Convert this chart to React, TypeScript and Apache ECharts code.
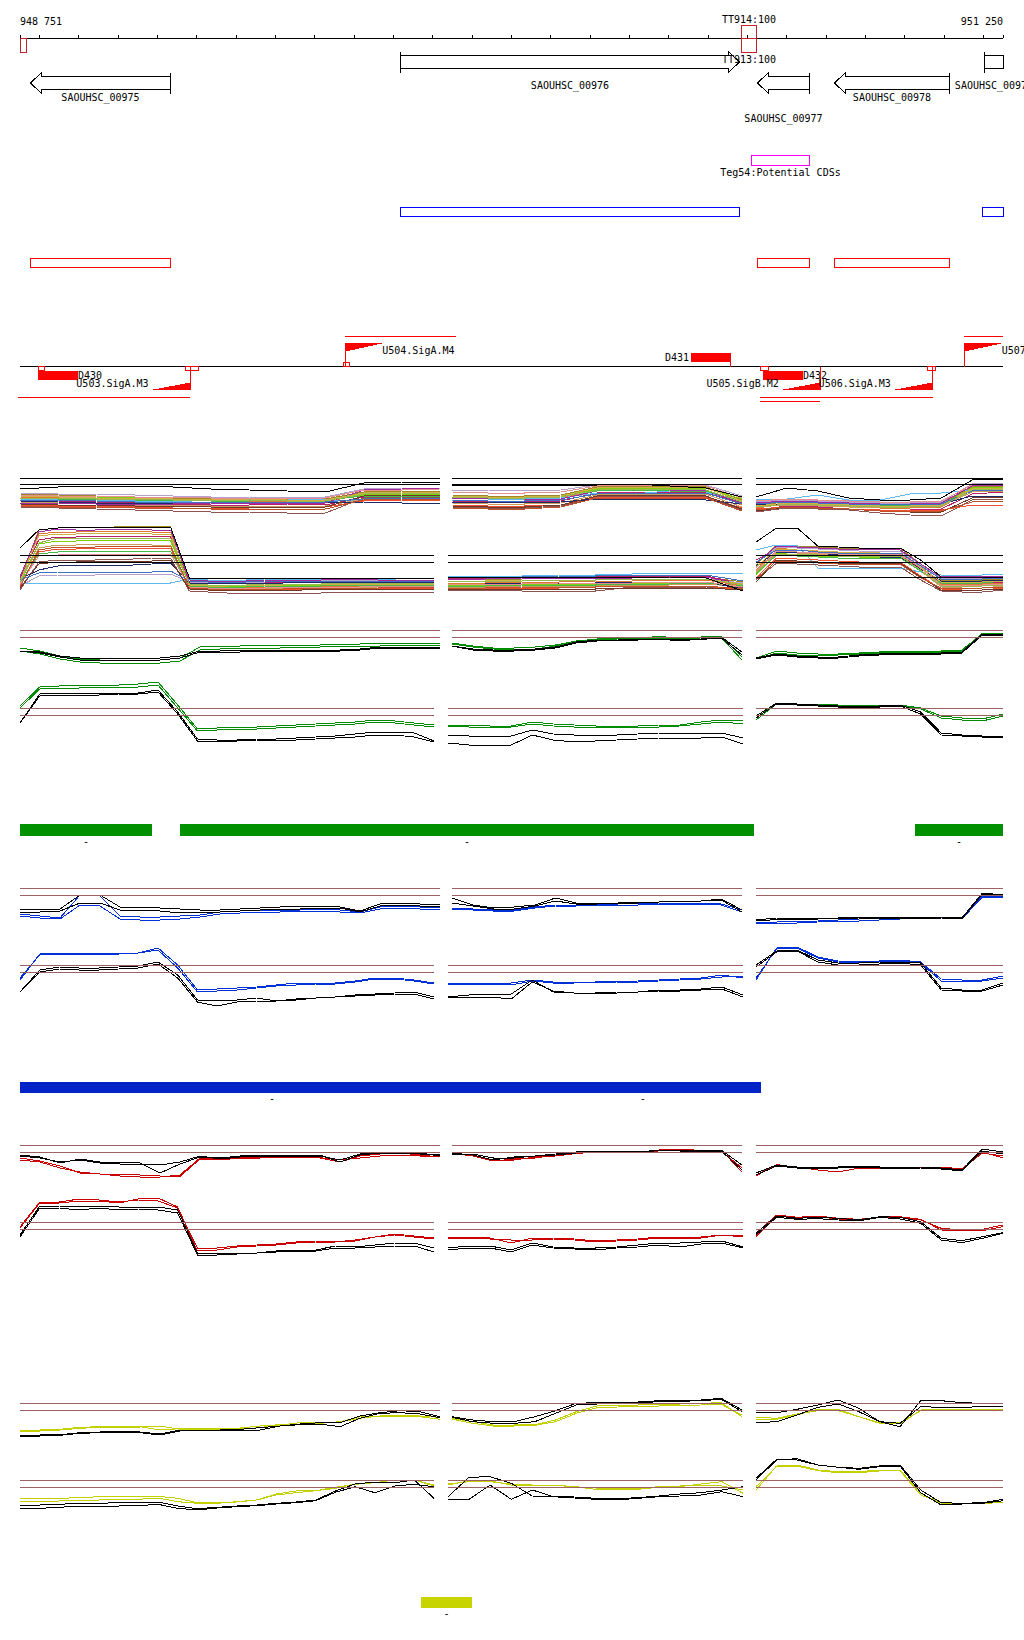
import React, { useEffect, useRef } from 'react';
import * as echarts from 'echarts';

// ---------------- genome region ----------------
const REGION_START = 948751;
const REGION_END = 951250;
const RULER_TICKS = [948751, 948800, 948900, 949000, 949100, 949200, 949300, 949400, 949500, 949600, 949700, 949800, 949900, 950000, 950100, 950200, 950300, 950400, 950500, 950600, 950700, 950800, 950900, 951000, 951100, 951200, 951250];
const RULER_LABELS = [948751, 951250];

// terminators
const TERM_NAME = ['', 'TT914:100', 'TT913:100'];
const TERM_START = [948751, 950584, 950584];
const TERM_END = [948766, 950623, 950623];
const TERM_STRAND = ['-', '+', '-'];

// genes
const GENE_NAME = ['SAOUHSC_00975', 'SAOUHSC_00976', 'SAOUHSC_00977', 'SAOUHSC_00978', 'SAOUHSC_00979'];
const GENE_START = [948776, 949717, 950625, 950820, 951201];
const GENE_END = [949132, 950579, 950757, 951112, 951460];
const GENE_STRAND = ['-', '+', '-', '-', '+'];
const GENE_LABEL_LOW = [false, false, true, false, false];

// potential CDS / boxes
const TEG_NAME = ['Teg54:Potential CDSs'];
const TEG_START = [950609];
const TEG_END = [950757];
const BLUE_BOX_START = [949717, 951197];
const BLUE_BOX_END = [950579, 951250];
const RED_BOX_START = [948776, 950625, 950820];
const RED_BOX_END = [949132, 950757, 951112];

// promoter track
const D_NAME = ['D430', 'D431', 'D432'];
const D_START = [948797, 950457, 950640];
const D_END = [948898, 950559, 950742];
const D_STRAND = ['-', '+', '-'];
const SITE_START = [948797, 949170, 949572, 950632, 951057];
const SITE_END = [948812, 949203, 949587, 950653, 951077];
const SITE_STRAND = ['-', '-', '+', '-', '-'];
const PROM_NAME = ['U503.SigA.M3', 'U504.SigA.M4', 'U505.SigB.M2', 'U506.SigA.M3', 'U507'];
const PROM_TSS = [949183, 949577, 950785, 951070, 951152];
const PROM_STRAND = ['-', '+', '-', '-', '+'];
const FLAG_BP = 100;
const UTR_START = [948746, 949577, 950632, 950632, 951152];
const UTR_END = [949183, 949859, 951072, 950785, 951250];
const UTR_STRAND = ['-', '+', '-', '-', '+'];
const UTR_ROW = [0, 0, 0, 1, 0];

// segment bars
const GREEN_BAR_START = [948751, 949158, 951026];
const GREEN_BAR_END = [949087, 950617, 951250];
const BLUE_BAR_START = [948751, 950032];
const BLUE_BAR_END = [950032, 950636];
const YELLOW_BAR_START = [949770];
const YELLOW_BAR_END = [949900];

// ---------------- expression profiles ----------------
const multi_top_1 = [
  [26, 25, 24, 23, 22, 22, 22, 21, 21, 28, 29, 29],
  [23, 22, 20, 19, 18, 18, 19, 19, 18, 26, 27, 27],
  [20, 19, 18, 17, 16, 15, 15, 16, 15, 23, 24, 25],
  [24, 23, 23, 22, 21, 20, 21, 21, 20, 25, 26, 26],
  [21, 20, 20, 19, 18, 20, 21, 21, 20, 20, 21, 21],
  [27, 26, 26, 25, 24, 23, 23, 22, 23, 31, 32, 32],
  [13, 12, 11, 10, 9, 8, 8, 7, 7, 22, 23, 23],
  [18, 17, 16, 15, 15, 14, 14, 14, 14, 21, 22, 22],
  [15, 14, 14, 13, 12, 12, 12, 13, 13, 19, 20, 20],
  [19, 18, 17, 17, 17, 18, 18, 17, 17, 18, 17, 17],
  [17, 17, 16, 16, 16, 17, 17, 17, 17, 30, 31, 32],
  [22, 21, 21, 20, 20, 19, 19, 20, 20, 24, 24, 24],
  [24, 23, 22, 22, 21, 21, 21, 20, 20, 27, 28, 28],
  [16, 15, 15, 14, 14, 13, 13, 13, 13, 24, 25, 25],
  [25, 24, 24, 23, 23, 22, 22, 22, 22, 30, 30, 31],
  [20, 20, 19, 18, 18, 18, 18, 18, 18, 21, 22, 22],
  [22, 22, 21, 21, 20, 20, 20, 19, 19, 26, 27, 27],
  [14, 13, 13, 12, 12, 11, 11, 11, 11, 20, 21, 21],
  [31, 33, 34, 34, 33, 31, 30, 29, 28, 37, 38, 38],
];
const multi_top_2 = [
  [25, 24, 24, 25, 33, 34, 34, 33, 20],
  [22, 21, 21, 22, 30, 31, 31, 30, 15],
  [19, 18, 18, 19, 27, 28, 28, 28, 17],
  [23, 23, 22, 23, 31, 32, 32, 32, 21],
  [20, 20, 21, 22, 27, 26, 29, 28, 18],
  [30, 30, 29, 30, 35, 36, 36, 35, 24],
  [13, 12, 12, 14, 23, 24, 24, 23, 10],
  [17, 16, 16, 17, 25, 26, 26, 26, 13],
  [15, 14, 14, 15, 23, 23, 23, 23, 12],
  [18, 18, 17, 18, 21, 21, 21, 20, 16],
  [21, 22, 21, 21, 29, 30, 30, 29, 17],
  [24, 23, 23, 24, 29, 30, 29, 29, 19],
  [24, 23, 23, 24, 32, 33, 33, 32, 19],
  [14, 13, 13, 15, 24, 25, 25, 24, 11],
  [28, 27, 27, 28, 34, 35, 35, 34, 22],
  [20, 19, 19, 20, 26, 27, 27, 27, 16],
  [23, 22, 22, 23, 30, 31, 31, 30, 18],
  [12, 11, 11, 13, 22, 22, 22, 22, 9],
  [35, 35, 35, 35, 35, 36, 34, 32, 23],
];
const multi_top_3 = [
  [15, 18, 17, 16, 15, 15, 16, 33, 34],
  [12, 16, 14, 13, 12, 12, 13, 30, 31],
  [10, 14, 13, 11, 10, 10, 11, 26, 28],
  [14, 17, 16, 15, 14, 14, 15, 32, 33],
  [20, 21, 25, 20, 20, 26, 27, 30, 31],
  [18, 20, 19, 18, 17, 17, 18, 36, 37],
  [8, 12, 11, 10, 7, 5, 4, 20, 21],
  [13, 15, 14, 13, 13, 13, 14, 28, 29],
  [11, 13, 12, 11, 10, 10, 10, 15, 15],
  [15, 16, 15, 15, 16, 16, 16, 24, 24],
  [17, 19, 18, 17, 16, 16, 17, 34, 35],
  [16, 18, 17, 16, 15, 15, 16, 30, 30],
  [14, 17, 16, 15, 14, 14, 15, 31, 32],
  [9, 13, 12, 11, 9, 8, 8, 22, 23],
  [19, 21, 20, 19, 18, 18, 19, 35, 36],
  [16, 18, 17, 16, 16, 16, 16, 29, 30],
  [13, 16, 15, 14, 13, 13, 14, 30, 31],
  [10, 13, 12, 11, 9, 9, 9, 18, 19],
  [23, 32, 29, 22, 20, 20, 22, 40, 41],
];
const multi_bot_1 = [
  [20, 70, 72, 73, 73, 73, 74, 74, 73, 16, 15, 15, 15, 14, 14, 15, 15, 15, 16, 16, 16, 16, 16],
  [18, 66, 68, 68, 69, 69, 69, 68, 68, 13, 12, 13, 13, 13, 13, 13, 14, 14, 14, 14, 14, 14, 14],
  [22, 60, 63, 63, 64, 64, 64, 64, 63, 18, 17, 17, 17, 18, 18, 18, 18, 18, 18, 18, 17, 17, 17],
  [16, 56, 59, 59, 60, 60, 60, 60, 59, 15, 14, 14, 14, 15, 15, 15, 15, 16, 16, 16, 15, 15, 15],
  [17, 17, 17, 17, 17, 17, 17, 17, 17, 21, 20, 20, 20, 21, 21, 21, 21, 21, 21, 21, 20, 20, 20],
  [14, 24, 25, 25, 25, 26, 26, 26, 26, 18, 17, 18, 18, 18, 19, 19, 19, 20, 20, 20, 20, 19, 19],
  [10, 38, 40, 40, 40, 41, 41, 42, 42, 9, 8, 7, 7, 7, 7, 7, 7, 8, 8, 8, 8, 8, 8],
  [19, 52, 55, 55, 56, 56, 56, 55, 55, 12, 11, 11, 11, 12, 12, 12, 12, 12, 12, 13, 13, 13, 13],
  [15, 48, 51, 51, 52, 52, 52, 52, 52, 11, 10, 10, 10, 10, 10, 11, 11, 11, 11, 12, 12, 12, 12],
  [21, 30, 34, 35, 35, 35, 35, 36, 37, 17, 16, 17, 17, 17, 17, 18, 18, 18, 18, 18, 18, 18, 18],
  [23, 68, 71, 70, 70, 71, 71, 70, 70, 20, 19, 19, 19, 20, 20, 20, 20, 21, 21, 20, 20, 20, 20],
  [17, 46, 48, 49, 49, 49, 49, 49, 49, 14, 13, 13, 13, 14, 14, 14, 14, 15, 15, 15, 15, 15, 15],
  [19, 64, 66, 66, 67, 67, 67, 66, 66, 15, 14, 14, 15, 15, 15, 16, 16, 16, 16, 16, 16, 16, 16],
  [12, 36, 38, 38, 39, 39, 39, 39, 40, 11, 10, 10, 10, 10, 10, 10, 11, 11, 11, 11, 11, 11, 11],
  [16, 44, 45, 46, 46, 46, 46, 46, 46, 13, 12, 12, 12, 12, 13, 13, 13, 13, 13, 14, 14, 14, 14],
  [20, 27, 28, 28, 28, 28, 28, 28, 29, 19, 18, 18, 18, 19, 19, 19, 19, 19, 19, 19, 19, 19, 19],
  [18, 57, 62, 62, 62, 62, 62, 62, 62, 16, 15, 15, 15, 16, 16, 16, 16, 17, 17, 17, 17, 17, 17],
  [13, 50, 53, 53, 53, 54, 54, 54, 54, 12, 11, 11, 11, 11, 11, 12, 12, 12, 12, 12, 13, 13, 13],
  [52, 70, 72, 73, 73, 73, 73, 73, 73, 22, 22, 22, 22, 22, 22, 22, 22, 22, 22, 22, 22, 22, 22],
];
const multi_bot_2 = [
  [20, 21, 21, 22, 22, 23, 23, 23, 18],
  [17, 17, 18, 18, 19, 19, 20, 20, 14],
  [22, 22, 23, 23, 23, 24, 24, 24, 16],
  [15, 15, 16, 16, 16, 17, 17, 18, 12],
  [24, 24, 24, 25, 25, 26, 27, 27, 27],
  [18, 19, 19, 20, 20, 21, 21, 21, 17],
  [10, 10, 9, 9, 9, 13, 13, 13, 12],
  [13, 13, 14, 14, 14, 15, 15, 16, 13],
  [11, 12, 12, 12, 13, 14, 14, 14, 10],
  [16, 16, 17, 17, 17, 18, 18, 18, 11],
  [21, 21, 22, 22, 22, 22, 23, 23, 15],
  [14, 14, 15, 15, 15, 16, 16, 17, 14],
  [19, 19, 20, 20, 20, 21, 21, 21, 16],
  [11, 11, 11, 11, 11, 12, 12, 12, 10],
  [16, 16, 16, 17, 17, 17, 18, 18, 13],
  [23, 23, 23, 24, 24, 25, 25, 25, 19],
  [19, 19, 19, 20, 20, 21, 21, 21, 15],
  [12, 12, 13, 13, 13, 14, 14, 14, 11],
  [23, 23, 23, 23, 23, 23, 23, 22, 9],
];
const multi_bot_3 = [
  [35, 55, 54, 53, 52, 52, 52, 52, 36, 20, 20, 20, 21],
  [30, 52, 50, 49, 48, 48, 48, 49, 32, 16, 16, 16, 17],
  [40, 50, 47, 45, 44, 44, 44, 45, 31, 18, 18, 18, 18],
  [25, 47, 45, 44, 44, 43, 43, 44, 29, 15, 14, 14, 15],
  [50, 55, 55, 32, 32, 32, 32, 32, 28, 25, 25, 25, 26],
  [32, 53, 52, 51, 50, 49, 49, 49, 35, 22, 22, 22, 23],
  [20, 37, 36, 35, 34, 33, 33, 33, 20, 9, 8, 8, 10],
  [28, 48, 47, 46, 45, 45, 45, 45, 29, 13, 12, 12, 14],
  [22, 42, 41, 40, 39, 38, 38, 38, 24, 11, 10, 10, 12],
  [34, 48, 48, 47, 45, 44, 43, 43, 31, 19, 19, 19, 20],
  [37, 54, 53, 52, 51, 51, 51, 50, 36, 23, 24, 24, 24],
  [26, 45, 44, 43, 42, 42, 42, 42, 29, 17, 17, 17, 19],
  [33, 51, 50, 49, 48, 48, 47, 47, 33, 18, 18, 18, 19],
  [18, 40, 39, 38, 37, 37, 37, 37, 23, 10, 10, 10, 11],
  [29, 49, 48, 47, 46, 46, 46, 46, 32, 15, 15, 15, 16],
  [38, 50, 50, 48, 47, 47, 47, 47, 34, 21, 21, 21, 22],
  [27, 46, 46, 45, 44, 44, 44, 44, 30, 14, 14, 14, 15],
  [21, 39, 38, 37, 36, 36, 36, 36, 22, 12, 12, 12, 13],
  [58, 72, 72, 54, 53, 52, 52, 52, 40, 23, 23, 23, 23],
];

const green_top_1 = [
  [22, 19, 14, 11, 10, 10, 10, 10, 12, 23, 24, 24, 25, 25, 25, 25, 26, 26, 27, 27, 27, 27],
  [19, 16, 11, 8, 7, 7, 7, 7, 9, 20, 21, 22, 22, 22, 23, 23, 24, 24, 24, 25, 25, 25],
  [19, 18, 14, 12, 12, 12, 12, 12, 14, 19, 19, 20, 20, 20, 20, 20, 20, 21, 23, 23, 23, 23],
  [19, 17, 13, 10, 10, 10, 10, 10, 12, 18, 18, 18, 19, 19, 19, 19, 19, 20, 22, 22, 22, 22],
];
const green_top_2 = [
  [27, 24, 22, 22, 23, 25, 29, 31, 31.5, 32, 33.5, 32, 33, 34, 13],
  [26, 23, 21, 20, 21, 24, 28, 30, 31, 31, 32, 31, 32, 32.5, 10],
  [24, 21, 20, 20, 21, 23, 28, 30, 30, 30.5, 31, 30, 31, 33, 18],
  [24, 20, 19, 19, 20, 22, 27, 29, 29.5, 30, 30.5, 29.5, 30.5, 32, 15],
];
const green_top_3 = [
  [12, 19, 17, 16, 16, 17, 18, 19, 19, 19, 20, 36, 35],
  [11, 17, 15, 15, 15, 16, 17, 18, 18, 18, 19, 37, 36],
  [12, 16, 14, 13, 13, 15, 16, 17, 17, 17, 18, 36, 35],
  [11, 15, 13, 12, 12, 14, 15, 16, 16, 16, 17, 35, 34],
];
const green_bot_1 = [
  [44, 63, 64, 65, 65, 65, 66, 68, 45, 21, 22, 23, 23, 24, 25, 26, 27, 28, 30, 29, 27, 25],
  [42, 61, 62, 62, 63, 63, 63, 65, 42, 19, 20, 21, 21, 22, 23, 24, 25, 26, 28, 27, 25, 23],
  [27, 56, 57, 57, 57, 57, 57, 60, 38, 11, 10, 10, 11, 11, 12, 13, 14, 16, 18, 18, 17, 9],
  [27, 54, 55, 55, 55, 56, 56, 58, 36, 9, 9, 9, 10, 10, 10, 11, 12, 13, 15, 15, 13, 8],
];
const green_bot_2 = [
  [25, 25, 24, 24, 28, 26, 25, 24, 24, 24, 25, 25, 28, 30, 29],
  [24, 23, 23, 23, 26, 24, 23, 23, 23, 23, 23, 24, 26, 28, 26],
  [15, 14, 13, 14, 20, 16, 15, 15, 15, 16, 17, 17, 17, 17, 12],
  [7, 5, 5, 5, 15, 10, 8, 9, 10, 11, 12, 12, 12, 13, 6],
];
const green_bot_3 = [
  [32, 47, 46, 46, 45, 45, 44, 45, 42, 34, 32, 31, 36],
  [30, 46, 45, 45, 44, 44, 43, 44, 41, 32, 30, 29, 34],
  [34, 47, 46, 45, 44, 44, 44, 45, 38, 17, 15, 14, 14],
  [32, 46, 45, 44, 43, 43, 43, 44, 36, 15, 14, 13, 13],
];

const blue_top_1 = [
  [16, 14, 12, 35, 34, 14, 13, 13, 14, 15, 18, 19, 20, 20, 20, 21, 20, 18, 23, 24, 23, 23],
  [14, 12, 11, 25, 24, 11, 10, 10, 11, 13, 16, 17, 18, 18, 19, 19, 18, 17, 21, 22, 21, 21],
  [20, 21, 21, 35, 35, 23, 23, 22, 21, 20, 20, 21, 22, 23, 24, 24, 23, 19, 26, 27, 26, 25],
  [17, 18, 19, 27, 27, 20, 20, 19, 17, 18, 18, 19, 20, 21, 21, 22, 22, 18, 24, 25, 24, 24],
];
const blue_top_2 = [
  [22, 21, 20, 20, 23, 25, 25, 26, 26, 26.5, 27, 27, 27, 26, 20],
  [21, 20, 19, 19, 22, 24, 24, 25, 25, 25, 26, 26, 26, 25, 18],
  [32, 25, 22, 23, 25, 32, 27, 27, 27, 28, 28, 29, 29, 30, 18],
  [27, 24, 21, 21, 24, 29, 26, 26, 27, 27, 28, 29, 29, 31, 20],
];
const blue_top_3 = [
  [8, 8, 8.5, 9, 10, 11, 12, 13, 13, 13, 13, 34, 34],
  [7, 7, 7, 8, 9, 9, 10, 11, 12, 12, 11, 33, 33],
  [10, 12, 12, 12, 12, 13, 13, 13, 13, 13, 12, 37, 35],
  [9, 10.5, 11, 11, 11.5, 12, 12, 12, 12, 12, 11, 36, 34],
];
const blue_bot_1 = [
  [35, 61, 62, 62, 62, 62, 62, 67, 50, 25, 26, 27, 28, 30, 32, 32, 32, 34, 37, 37, 35, 32],
  [37, 60, 61, 61, 61, 61, 62, 65, 47, 23, 24, 25, 27, 29, 30, 31, 31, 33, 36, 36, 34, 31],
  [23, 45, 48, 47, 47, 48, 49, 53, 40, 15, 14, 15, 17, 14, 15, 17, 18, 20, 21, 22, 23, 18],
  [23, 43, 46, 45, 45, 46, 47, 51, 37, 13, 9, 13, 14, 14, 16, 17, 18, 19, 20, 21, 21, 16],
];
const blue_bot_2 = [
  [32, 32, 32, 32, 35, 33, 33, 33, 33.5, 34, 35, 36, 37, 40, 37],
  [31, 31, 31, 30, 34, 32, 32, 32.5, 33, 33, 34, 35, 36, 38, 39],
  [18, 20, 21, 21, 35, 23, 22, 22, 22, 23, 25, 25, 26, 28, 20],
  [17, 18, 18, 16, 33, 24, 22, 22, 23, 23, 24, 24, 25, 26, 18],
];
const blue_bot_3 = [
  [35, 67, 68, 58, 54, 53, 54, 55, 53, 36, 35, 35, 39],
  [37, 66, 67, 57, 53, 52, 53, 54, 52, 34, 34, 34, 37],
  [50, 64, 65, 55, 52, 52, 53, 53, 52, 27, 25, 25, 32],
  [48, 63, 64, 53, 50, 50, 51, 52, 50, 25, 24, 24, 30],
];

const red_top_1 = [
  [25, 23, 17, 13, 11, 10.5, 10, 9, 8.5, 26, 25, 27, 27, 27.3, 27.3, 27.3, 25, 27, 29, 30, 29, 29],
  [27, 24, 19, 12, 11, 9, 8, 8, 10, 27, 26, 27, 28, 28, 28, 27, 23, 29, 31, 32, 30, 28],
  [30, 28, 22, 26, 23, 23, 22, 12, 21, 28, 27, 29, 30, 30, 30, 30, 23, 30, 32, 32, 31, 30],
  [29, 27, 23, 25, 22, 21, 21, 20, 23, 29, 26, 28, 29, 29, 29, 29, 25, 31, 32, 33, 32, 29],
];
const red_top_2 = [
  [31.7, 29, 24, 26, 27, 30, 32, 34, 34, 33, 35, 36, 33, 35, 13],
  [31, 30, 25, 25, 28, 29, 31.5, 33, 34, 33.5, 34, 36, 34.5, 34, 17],
  [32, 30, 25, 28, 29, 31, 33, 34, 34, 33, 35, 35, 34, 35, 20],
  [31, 31, 27, 27, 29, 30, 32, 33, 33, 32.5, 34.5, 34, 34, 34, 15],
];
const red_top_3 = [
  [9, 20.5, 17, 16.5, 17, 18, 17.5, 18, 18, 18, 16, 32, 29],
  [10, 20, 18, 15, 13, 17, 17, 17, 17.5, 18, 15, 33, 27],
  [12, 20, 18, 17, 18, 19, 18, 17, 18, 17, 15, 36, 33],
  [10, 19, 17, 16, 17, 18, 17, 16, 17, 16, 14, 34, 31],
];
const red_bot_1 = [
  [38, 63, 63, 66, 65, 63, 65, 64, 57, 17, 17, 19, 20, 21, 23, 24, 23, 25, 28, 31, 29, 27],
  [37, 62, 62, 64, 64, 62, 66, 67, 58, 14, 15, 18, 19, 20, 22, 23, 23, 24, 28, 30, 28, 26],
  [30, 59, 59, 58, 59, 58, 58, 58, 55, 12, 12, 12, 12, 14, 15, 15, 19, 18, 20, 22, 22, 17],
  [28, 57, 57, 55, 57, 55, 56, 55, 52, 10, 10, 11, 12, 13, 14, 14, 17, 17, 18, 19, 19, 13],
];
const red_bot_2 = [
  [28, 28, 27, 22, 27, 27, 26, 24, 25, 26, 28, 27, 28, 30, 28],
  [27, 27, 26, 25, 25, 26, 25, 23, 24, 25, 27, 26, 27, 30, 29],
  [17, 19, 19, 15, 22, 18, 17, 17, 18, 20, 22, 22, 23, 24, 18],
  [15, 17, 17, 13, 20, 17, 16, 15, 17, 18, 20, 18, 21, 22, 17],
];
const red_bot_3 = [
  [31.7, 50, 47.7, 49, 46.7, 45.7, 47.7, 48.3, 45.7, 35, 34.3, 35.7, 40],
  [28.3, 49, 46.7, 48.3, 46, 45, 48.3, 47.7, 45, 36.7, 35, 34.3, 38.3],
  [31.7, 49, 46.7, 47.7, 46.7, 45, 48.3, 47.7, 43.3, 26.7, 24.3, 28.3, 32.3],
  [30, 47.7, 45.7, 46.3, 45, 44, 47.7, 46, 41.7, 25, 22.3, 26.7, 31.7],
];

const yellow_top_1 = [
  [13.3, 14, 15, 16.7, 17.7, 17.7, 18, 19, 15.7, 15.7, 15.7, 16, 17.3, 21, 21, 21.7, 23.3, 28.3, 29, 30, 29, 27.7],
  [14.3, 15, 15.7, 17.7, 18.3, 18.3, 18.3, 15, 16.3, 16.3, 16.3, 17, 19, 20, 22.3, 22.3, 23, 26.7, 29, 29, 28.3, 25.7],
  [10, 10, 10.3, 12.3, 13, 13.3, 13, 11, 15, 15, 15, 15.7, 17.3, 19, 21, 22.3, 22.3, 29, 32.3, 34.3, 33.3, 28.3],
  [9, 9, 9.7, 11.7, 12.3, 12.3, 12.3, 10, 14, 14.3, 14.3, 14.3, 15, 19, 20.3, 21, 18.3, 26.7, 31.7, 32.3, 31, 27.3],
];
const yellow_top_2 = [
  [26.7, 23.3, 20, 20, 20.3, 25, 33.3, 39, 39.7, 40, 40.7, 41, 41.7, 42.3, 28.3],
  [25.7, 21.7, 19, 19, 19.7, 23.3, 31.7, 37.3, 38, 38.7, 39, 39.3, 40, 40.7, 30],
  [28.3, 25, 23.3, 23.3, 28.3, 34.3, 41.7, 42.3, 42.3, 43, 44.3, 44.3, 45, 46.7, 35],
  [27.7, 23.3, 21.7, 21.7, 23.3, 31.7, 40, 41, 41.7, 42.3, 43.3, 43.7, 44.3, 45.7, 33.3],
];
const yellow_top_3 = [
  [27.7, 26.7, 31, 34.3, 34.3, 28.3, 22.3, 22.3, 34.3, 34.3, 34.3, 34.3, 34.3],
  [25.7, 25.7, 30, 35.7, 35.7, 28.3, 21.7, 21, 35, 35.7, 35.7, 35.7, 35.7],
  [32.3, 32.3, 35.7, 40, 45, 36.7, 23.3, 18.3, 44.3, 44.3, 42.3, 41.7, 41],
  [22.3, 23.3, 30, 37.7, 41, 33.3, 23.3, 21.7, 38.3, 37.7, 37.7, 38.3, 39],
];
const yellow_bot_1 = [
  [16.7, 16.7, 16.7, 17.3, 18.3, 18.3, 18.3, 18.7, 16.7, 12.3, 12.3, 13, 15, 21, 24, 24.3, 26.7, 31, 32.3, 35, 35, 30],
  [13.3, 13.3, 14, 15, 15, 15.7, 15.7, 17, 13.3, 11.7, 11.7, 13.3, 15, 20, 22.3, 24.3, 27.7, 30.7, 32.3, 35, 35, 29],
  [10, 10, 10.7, 11.7, 11.7, 12.3, 12.3, 13, 9, 6.3, 7.7, 9, 10, 11.7, 13, 15, 24, 31, 33, 32.3, 35, 16.7],
  [6.7, 6.7, 7.7, 9, 9, 9, 9.3, 10.7, 6.7, 5, 7, 8.3, 9.3, 11, 12.3, 14.3, 22.7, 28.3, 22.3, 29, 30.7, 28.3],
];
const yellow_bot_2 = [
  [31, 33.3, 33.3, 31, 30, 30, 28.3, 25.7, 25.7, 25.7, 27.7, 28.3, 31, 33.3, 21.7],
  [30, 34.3, 34, 30, 29.7, 29.7, 28.3, 27, 26.3, 26.3, 28.3, 29, 30, 29, 25],
  [18.3, 37.7, 38.3, 31.7, 19, 18.3, 18, 16.7, 16.3, 17.3, 19, 21, 22.3, 25, 28.3],
  [15, 15.7, 30, 15.7, 25, 18.3, 17, 15.7, 15, 16.7, 18.3, 19, 20, 23.3, 18.3],
];
const yellow_bot_3 = [
  [25, 49, 50, 45, 43.3, 43.3, 45, 45, 21.7, 11.7, 11.7, 11.7, 12.3],
  [28.3, 48.3, 49, 44.3, 42.3, 42.3, 44, 44.3, 20, 12.3, 11, 11.7, 12.3],
  [35, 55, 56.3, 50, 47.7, 46.7, 49, 50, 25, 12.3, 11.7, 12.3, 15.7],
  [36.7, 55.7, 55, 50, 47.7, 45.7, 48.3, 49, 22.3, 10, 11, 11.7, 14.3],
];

// threshold reference lines per row
const REF_MULTI_TOP = [41.7, 35.7];
const REF_MULTI_BOT = [44.3, 37.7];
const REF_MULTI_BOT_C3 = [44.3, 37.7, 22.7];
const REF_GREEN_TOP = [40, 32.7];
const REF_GREEN_BOT = [41.7, 34.7];
const REF_BLUE_TOP = [41.7, 34.7];
const REF_BLUE_BOT = [49.7, 42.7];
const REF_RED_TOP = [39.7, 32.3];
const REF_RED_BOT = [42.7, 35.7];
const REF_YELLOW_TOP = [41.7, 34.7];
const REF_YELLOW_BOT = [34.7, 27.7];

// ---------------- layout & style ----------------
const MONO = '"DejaVu Sans Mono", "Liberation Mono", monospace';
const COLS_A = [[20, 440], [452, 742], [756, 1003]];
const COLS_B = [[20, 434], [448, 743], [756, 1003]];
const MULTI_COLORS = [
  '#a08828', '#e07838', '#b8206c', '#80d010', '#60b8f0', '#b8a0cc', '#8c5450', '#cc9c5c', '#f05030', '#202868',
  '#a02ca0', '#48b848', '#d0b040', '#703828', '#e89090', '#4070c0', '#98b850', '#c05028', '#000000',
];
const REF_BROWN = '#9a6262';
const C_GREEN = '#008c00';
const C_BLUE = '#0030d8';
const C_RED = '#cc0000';
const C_YELLOW = '#c4d000';

function buildOption() {
  const grid: any[] = [];
  const xAxis: any[] = [];
  const yAxis: any[] = [];
  const series: any[] = [];

  // genome coordinate grid (ruler on top)
  grid.push({ left: 20, top: 38, width: 983, height: 1590, outerBoundsMode: 'none' });
  xAxis.push({
    gridIndex: 0, type: 'value', min: REGION_START, max: REGION_END, position: 'top',
    axisLine: { show: true, onZero: false, lineStyle: { color: '#000', width: 1 } },
    axisTick: { show: true, customValues: RULER_TICKS, length: 3, lineStyle: { color: '#000', width: 1 } },
    axisLabel: {
      show: true, customValues: RULER_LABELS, margin: 12, fontFamily: MONO, fontSize: 10, color: '#000',
      alignMinLabel: 'left', alignMaxLabel: 'right',
      formatter: (v: number) => String(Math.round(v)).replace(/(\d{3})(\d{3})$/, '$1 $2'),
    },
    splitLine: { show: false },
  });
  yAxis.push({ gridIndex: 0, type: 'value', min: 0, max: 1, show: false });

  const X = (api: any, pos: number) => api.coord([pos, 0])[0];
  const text = (t: string, x: number, y: number, align = 'center') => ({
    type: 'text', silent: true,
    style: { text: t, x, y, align, verticalAlign: 'middle', fontFamily: MONO, fontSize: 10, fill: '#000' },
  });
  const custom = (data: any[], renderItem: any, z = 5) => ({
    type: 'custom', xAxisIndex: 0, yAxisIndex: 0, silent: true, clip: false, animation: false,
    data, renderItem, z,
  });
  const pairs = (a: number[], b: number[]) => a.map((s, i) => [s, b[i]]);

  // genes
  series.push(custom(pairs(GENE_START, GENE_END), (p: any, api: any) => {
    const i = p.dataIndex;
    const clipped = api.value(1) > REGION_END;
    const x1 = Math.round(X(api, Math.max(api.value(0), REGION_START))) + 0.5;
    const x2 = Math.round(X(api, Math.min(api.value(1), REGION_END))) + 0.5;
    const fwd = GENE_STRAND[i] === '+';
    const c = fwd ? 62 : 83;
    const bh = 6.5, hh = 10.5, hl = 11;
    let pts: number[][];
    let capX: number;
    if (clipped) {
      pts = [[x1, c - bh], [x2, c - bh], [x2, c + bh], [x1, c + bh]]; capX = x1;
    } else if (fwd) {
      pts = [[x1, c - bh], [x2 - hl, c - bh], [x2 - hl, c - hh], [x2, c], [x2 - hl, c + hh], [x2 - hl, c + bh], [x1, c + bh]]; capX = x1;
    } else {
      pts = [[x2, c - bh], [x1 + hl, c - bh], [x1 + hl, c - hh], [x1, c], [x1 + hl, c + hh], [x1 + hl, c + bh], [x2, c + bh]]; capX = x2;
    }
    const ly = fwd ? 85 : (GENE_LABEL_LOW[i] ? 118 : 97.5);
    return {
      type: 'group', children: [
        { type: 'polygon', shape: { points: pts }, style: { fill: '#fff', stroke: '#000', lineWidth: 1 } },
        { type: 'line', shape: { x1: capX, y1: c - hh, x2: capX, y2: c + hh }, style: { stroke: '#000', lineWidth: 1 } },
        text(GENE_NAME[i], (x1 + x2) / 2, ly),
      ],
    };
  }, 5));

  // terminators (drawn over the genes)
  series.push(custom(pairs(TERM_START, TERM_END), (p: any, api: any) => {
    const i = p.dataIndex;
    const x1 = Math.round(X(api, api.value(0))) + 0.5;
    const x2 = Math.round(X(api, api.value(1))) + 0.5;
    const plus = TERM_STRAND[i] === '+';
    const y1 = plus ? 25.5 : 38.5;
    const y2 = plus ? 38.5 : 52.5;
    const ch: any[] = [{ type: 'rect', shape: { x: x1, y: y1, width: x2 - x1, height: y2 - y1 }, style: { fill: 'none', stroke: '#c4222a', lineWidth: 1 } }];
    if (TERM_NAME[i]) ch.push(text(TERM_NAME[i], (x1 + x2) / 2, plus ? 19 : 59.5));
    return { type: 'group', children: ch };
  }, 8));

  // outline boxes
  const boxes = (s: number[], e: number[], names: string[] | null, top: number, h: number, color: string) =>
    custom(pairs(s, e), (p: any, api: any) => {
      const i = p.dataIndex;
      const x1 = Math.round(X(api, api.value(0))) + 0.5;
      const x2 = Math.round(X(api, api.value(1))) + 0.5;
      const ch: any[] = [{ type: 'rect', shape: { x: x1, y: top, width: x2 - x1, height: h }, style: { fill: 'none', stroke: color, lineWidth: 1 } }];
      if (names && names[i]) ch.push(text(names[i], (x1 + x2) / 2, top + h + 6.5));
      return { type: 'group', children: ch };
    });
  series.push(boxes(TEG_START, TEG_END, TEG_NAME, 155.5, 10, '#ff00ff'));
  series.push(boxes(BLUE_BOX_START, BLUE_BOX_END, null, 207.5, 9, '#0000ff'));
  series.push(boxes(RED_BOX_START, RED_BOX_END, null, 258.5, 9, '#ff0000'));

  // promoter track baseline
  series.push(custom([[REGION_START, REGION_END]], (p: any, api: any) => ({
    type: 'line', shape: { x1: X(api, api.value(0)), y1: 366.5, x2: X(api, api.value(1)), y2: 366.5 },
    style: { stroke: '#000', lineWidth: 1 },
  })));

  // UTR lines
  series.push(custom(pairs(UTR_START, UTR_END), (p: any, api: any) => {
    const i = p.dataIndex;
    const y = UTR_STRAND[i] === '+' ? 336.5 : (UTR_ROW[i] === 0 ? 397.5 : 401.5);
    return { type: 'line', shape: { x1: X(api, api.value(0)), y1: y, x2: X(api, api.value(1)), y2: y }, style: { stroke: '#ff0000', lineWidth: 1 } };
  }));

  // D features
  series.push(custom(pairs(D_START, D_END), (p: any, api: any) => {
    const i = p.dataIndex;
    const x1 = Math.round(X(api, api.value(0)));
    const x2 = Math.round(X(api, api.value(1)));
    if (D_STRAND[i] === '+') {
      return {
        type: 'group', children: [
          { type: 'rect', shape: { x: x1, y: 353, width: x2 - x1, height: 9 }, style: { fill: '#ff0000' } },
          { type: 'line', shape: { x1: x2 - 0.5, y1: 353, x2: x2 - 0.5, y2: 366.5 }, style: { stroke: '#ff0000', lineWidth: 1 } },
          text(D_NAME[i], x1 - 2, 357.5, 'right'),
        ],
      };
    }
    return {
      type: 'group', children: [
        { type: 'rect', shape: { x: x1, y: 371, width: x2 - x1, height: 9 }, style: { fill: '#ff0000' } },
        text(D_NAME[i], x2, 375.5, 'left'),
      ],
    };
  }));

  // small site markers
  series.push(custom(pairs(SITE_START, SITE_END), (p: any, api: any) => {
    const i = p.dataIndex;
    const x1 = Math.round(X(api, api.value(0))) + 0.5;
    const x2 = Math.round(X(api, api.value(1))) + 0.5;
    const y = SITE_STRAND[i] === '+' ? 362.5 : 366.5;
    return { type: 'rect', shape: { x: x1, y, width: x2 - x1, height: 4 }, style: { fill: 'none', stroke: '#ff0000', lineWidth: 1 } };
  }));

  // promoter flags
  series.push(custom(PROM_TSS.map((t) => [t, 0]), (p: any, api: any) => {
    const i = p.dataIndex;
    const tss = api.value(0);
    const t = Math.round(X(api, tss)) + 0.5;
    if (PROM_STRAND[i] === '+') {
      const te = X(api, tss + FLAG_BP);
      return {
        type: 'group', children: [
          { type: 'line', shape: { x1: t, y1: 343, x2: t, y2: 366.5 }, style: { stroke: '#ff0000', lineWidth: 1 } },
          { type: 'polygon', shape: { points: [[t, 343], [te, 343], [t, 351.5]] }, style: { fill: '#ff0000' } },
          text(PROM_NAME[i], te - 2, 350.5, 'left'),
        ],
      };
    }
    const tl = X(api, tss - FLAG_BP);
    return {
      type: 'group', children: [
        { type: 'line', shape: { x1: t, y1: 366.5, x2: t, y2: 390 }, style: { stroke: '#ff0000', lineWidth: 1 } },
        { type: 'polygon', shape: { points: [[t, 382.5], [t, 390], [tl, 390]] }, style: { fill: '#ff0000' } },
        text(PROM_NAME[i], tl - 2, 383, 'right'),
      ],
    };
  }));

  // segment bars
  const bars = (s: number[], e: number[], top: number, h: number, color: string) =>
    custom(pairs(s, e), (p: any, api: any) => {
      const x1 = X(api, api.value(0));
      const x2 = X(api, api.value(1));
      return {
        type: 'group', children: [
          { type: 'rect', shape: { x: x1, y: top, width: x2 - x1, height: h }, style: { fill: color } },
          text('-', (x1 + x2) / 2, top + h + 5),
        ],
      };
    });
  series.push(bars(GREEN_BAR_START, GREEN_BAR_END, 824, 12, '#009000'));
  series.push(bars(BLUE_BAR_START, BLUE_BAR_END, 1082, 11, '#0024c8'));
  series.push(bars(YELLOW_BAR_START, YELLOW_BAR_END, 1597, 11, '#c8d400'));

  // expression panels
  const addRow = (top: number, h: number, cols: number[][], panels: number[][][], colors: string[], refs: number[][], refColor: string) => {
    panels.forEach((lines, c) => {
      const gi = grid.length;
      grid.push({ left: cols[c][0], top, width: cols[c][1] - cols[c][0], height: h, outerBoundsMode: 'none' });
      xAxis.push({ gridIndex: gi, type: 'category', boundaryGap: false, data: lines[0].map((_, k) => k), show: false });
      yAxis.push({ gridIndex: gi, type: 'value', min: 0, max: h, show: false });
      lines.forEach((d, k) => {
        series.push({
          type: 'line', xAxisIndex: gi, yAxisIndex: gi, data: d, symbol: 'none', showSymbol: false,
          lineStyle: { width: 1, color: colors[k] }, itemStyle: { color: colors[k] },
          silent: true, animation: false, z: 2 + (colors[k] === '#000000' ? 1 : 0),
          markLine: k === 0 ? {
            silent: true, symbol: ['none', 'none'], label: { show: false }, animation: false,
            lineStyle: { color: refColor, width: 1, type: 'solid' },
            emphasis: { disabled: true },
            data: refs[c].map((v) => ({ yAxis: v })),
          } : undefined,
        });
      });
    });
  };
  const four = (col: string) => [col, col, '#000000', '#000000'];

  addRow(470, 50, COLS_A, [multi_top_1, multi_top_2, multi_top_3], MULTI_COLORS, [REF_MULTI_TOP, REF_MULTI_TOP, REF_MULTI_TOP], '#000');
  addRow(520, 80, COLS_B, [multi_bot_1, multi_bot_2, multi_bot_3], MULTI_COLORS, [REF_MULTI_BOT, REF_MULTI_BOT, REF_MULTI_BOT_C3], '#000');
  addRow(620, 50, COLS_A, [green_top_1, green_top_2, green_top_3], four(C_GREEN), [REF_GREEN_TOP, REF_GREEN_TOP, REF_GREEN_TOP], REF_BROWN);
  addRow(675, 75, COLS_B, [green_bot_1, green_bot_2, green_bot_3], four(C_GREEN), [REF_GREEN_BOT, REF_GREEN_BOT, REF_GREEN_BOT], REF_BROWN);
  addRow(880, 50, COLS_A, [blue_top_1, blue_top_2, blue_top_3], four(C_BLUE), [REF_BLUE_TOP, REF_BLUE_TOP, REF_BLUE_TOP], REF_BROWN);
  addRow(940, 75, COLS_B, [blue_bot_1, blue_bot_2, blue_bot_3], four(C_BLUE), [REF_BLUE_BOT, REF_BLUE_BOT, REF_BLUE_BOT], REF_BROWN);
  addRow(1135, 50, COLS_A, [red_top_1, red_top_2, red_top_3], four(C_RED), [REF_RED_TOP, REF_RED_TOP, REF_RED_TOP], REF_BROWN);
  addRow(1190, 75, COLS_B, [red_bot_1, red_bot_2, red_bot_3], four(C_RED), [REF_RED_BOT, REF_RED_BOT, REF_RED_BOT], REF_BROWN);
  addRow(1390, 55, COLS_A, [yellow_top_1, yellow_top_2, yellow_top_3], four(C_YELLOW), [REF_YELLOW_TOP, REF_YELLOW_TOP, REF_YELLOW_TOP], REF_BROWN);
  addRow(1450, 65, COLS_B, [yellow_bot_1, yellow_bot_2, yellow_bot_3], four(C_YELLOW), [REF_YELLOW_BOT, REF_YELLOW_BOT, REF_YELLOW_BOT], REF_BROWN);

  return {
    animation: false,
    backgroundColor: '#ffffff',
    textStyle: { fontFamily: MONO },
    grid, xAxis, yAxis, series,
  };
}

export default function App() {
  const ref = useRef<HTMLDivElement>(null);
  useEffect(() => {
    if (!ref.current) return;
    const chart = echarts.init(ref.current, null, { renderer: 'svg', width: 1024, height: 1640 });
    chart.setOption(buildOption() as any);
    const svg = ref.current.querySelector('svg');
    if (svg) svg.setAttribute('shape-rendering', 'crispEdges');
    return () => chart.dispose();
  }, []);
  return (
    <div
      ref={ref}
      style={{ position: 'absolute', left: 0, top: 0, width: 1024, height: 1640, background: '#fff' }}
    />
  );
}
